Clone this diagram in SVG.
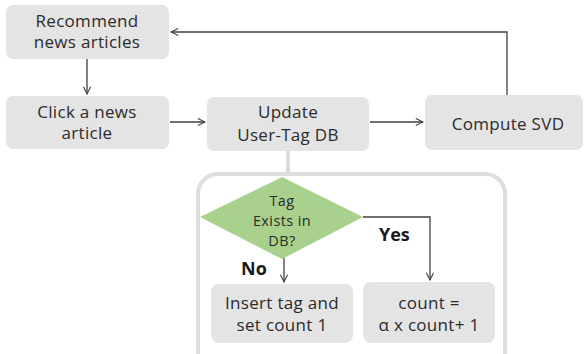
<svg xmlns="http://www.w3.org/2000/svg" width="585" height="354" viewBox="0 0 585 354">
  <defs>
    <marker id="arrow" viewBox="0 0 10 10" refX="9" refY="5" markerWidth="9" markerHeight="9" markerUnits="userSpaceOnUse" orient="auto">
      <path d="M1,1 L9,5 L1,9" fill="none" stroke="#404040" stroke-width="1.2"/>
    </marker>
    <style>
      .box { fill: #e4e4e4; }
      .lbl { font-family: "Open Sans", "Noto Sans", sans-serif; font-size: 17px; letter-spacing: 0.3px; fill: #2b2b2b; text-anchor: middle; }
      .sm { font-size: 14.5px; letter-spacing: 0.4px; }
      .bold { font-family: "Open Sans", "Noto Sans", sans-serif; font-size: 18px; font-weight: bold; fill: #1a1a1a; }
      .wire { fill: none; stroke: #404040; stroke-width: 1.3; }
    </style>
  </defs>
  <rect width="585" height="354" fill="#ffffff"/>

  <!-- enclosing panel for the tag check -->
  <rect x="198" y="174" width="307" height="200" rx="20" fill="none" stroke="#dedede" stroke-width="4"/>

  <g id="connectors">
    <line class="wire" x1="87" y1="59" x2="87" y2="94" marker-end="url(#arrow)"/>
    <line class="wire" x1="170" y1="122" x2="205" y2="122" marker-end="url(#arrow)"/>
    <line class="wire" x1="370" y1="122" x2="423" y2="122" marker-end="url(#arrow)"/>
    <polyline class="wire" points="507,95 507,32 171,32" marker-end="url(#arrow)"/>
    <line x1="288" y1="151" x2="288" y2="173" stroke="#dedede" stroke-width="4"/>
    <line class="wire" x1="284" y1="258" x2="284" y2="282" marker-end="url(#arrow)"/>
    <polyline class="wire" points="363,217 430,217 430,280" marker-end="url(#arrow)"/>
  </g>

  <g id="recommend">
    <rect class="box" x="6" y="5" width="163" height="54" rx="7"/>
    <text class="lbl" x="87" y="27">Recommend</text>
    <text class="lbl" x="87" y="48">news articles</text>
  </g>

  <g id="click">
    <rect class="box" x="6" y="96" width="163" height="53" rx="7"/>
    <text class="lbl" x="87" y="118">Click a news</text>
    <text class="lbl" x="87" y="139">article</text>
  </g>

  <g id="update">
    <rect class="box" x="207" y="97" width="162" height="54" rx="7"/>
    <text class="lbl" x="288" y="118">Update</text>
    <text class="lbl" x="288" y="141">User-Tag DB</text>
  </g>

  <g id="svd">
    <rect class="box" x="425" y="95" width="158" height="55" rx="7"/>
    <text class="lbl" x="508" y="130">Compute SVD</text>
  </g>

  <g id="decision">
    <polygon points="200,217 282,177 363,217 282,259" fill="#a9d18e"/>
    <text class="lbl sm" x="282" y="206">Tag</text>
    <text class="lbl sm" x="282" y="226">Exists in</text>
    <text class="lbl sm" x="282" y="246">DB?</text>
  </g>

  <g id="labels">
    <text class="bold" x="379" y="241">Yes</text>
    <text class="bold" x="241" y="275">No</text>
  </g>

  <g id="insert">
    <rect class="box" x="211" y="284" width="142" height="59" rx="8"/>
    <text class="lbl" x="282" y="309">Insert tag and</text>
    <text class="lbl" x="282" y="331">set count 1</text>
  </g>

  <g id="count">
    <rect class="box" x="363" y="282" width="132" height="61" rx="8"/>
    <text class="lbl" x="429" y="309">count =</text>
    <text class="lbl" x="429" y="331">α x count+ 1</text>
  </g>
</svg>
